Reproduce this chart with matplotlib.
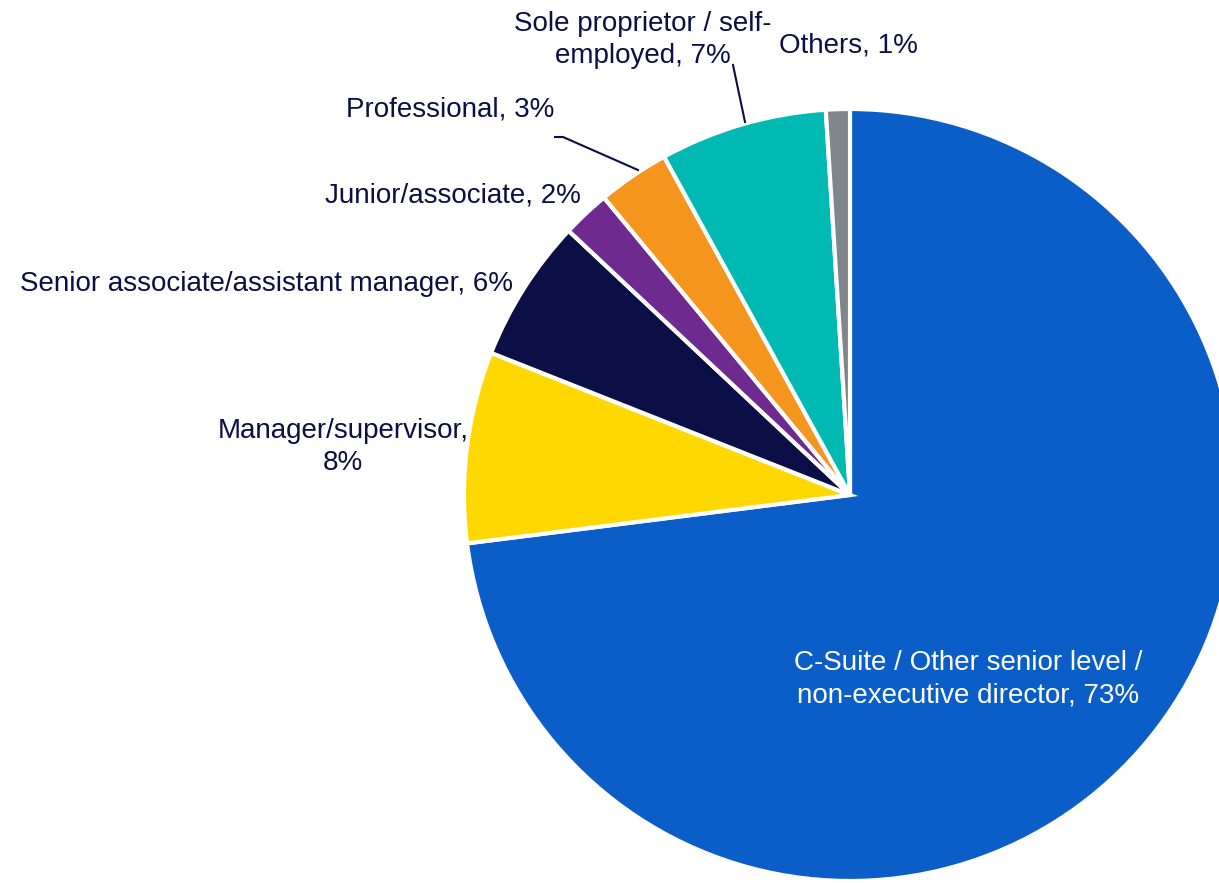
import matplotlib.pyplot as plt

plt.rcParams['font.family'] = ['Liberation Sans', 'DejaVu Sans']

# Job level breakdown, clockwise from 12 o'clock
LEVELS = ['C-Suite / Other senior level /\nnon-executive director',
          'Manager/supervisor',
          'Senior associate/assistant manager',
          'Junior/associate',
          'Professional',
          'Sole proprietor / self-\nemployed',
          'Others']
SHARES = [73, 8, 6, 2, 3, 7, 1]
COLORS = ['#0b5ec8', '#ffd800', '#0b0f45', '#6e2a8e', '#f5951d', '#00b9b3', '#7f878c']
TEXT_COLOR = '#0b0f45'

W, H = 1219, 883


def label(x, y, s, color=TEXT_COLOR):
    # x, y are pixel positions measured from the top-left corner
    ax.text(x, H - y, s, ha='center', va='center', fontsize=20,
            color=color, linespacing=1.3)


fig = plt.figure(figsize=(W / 100, H / 100), dpi=100)
ax = fig.add_axes([0, 0, 1, 1])

ax.pie(SHARES, colors=COLORS, startangle=90, counterclock=False,
       center=(850, H - 495), radius=386,
       wedgeprops=dict(edgecolor='white', linewidth=3))

ax.set_xlim(0, W)
ax.set_ylim(0, H)
ax.set_aspect('equal')
ax.axis('off')

texts = [f'{name}, {v}%' for name, v in zip(LEVELS, SHARES)]
label(968, 679, texts[0], color='white')
label(343, 447, 'Manager/supervisor,\n8%')
label(266, 284, texts[2])
label(453, 196, texts[3])
label(450, 110, texts[4])
label(643, 40, texts[5])
label(848, 45, texts[6])

# leader lines
ax.plot([733, 745], [H - 65, H - 122], color=TEXT_COLOR, lw=1.5)
ax.plot([555, 563, 638], [H - 137, H - 137, H - 170], color=TEXT_COLOR, lw=1.5)

fig.savefig('out.png', dpi=100)
